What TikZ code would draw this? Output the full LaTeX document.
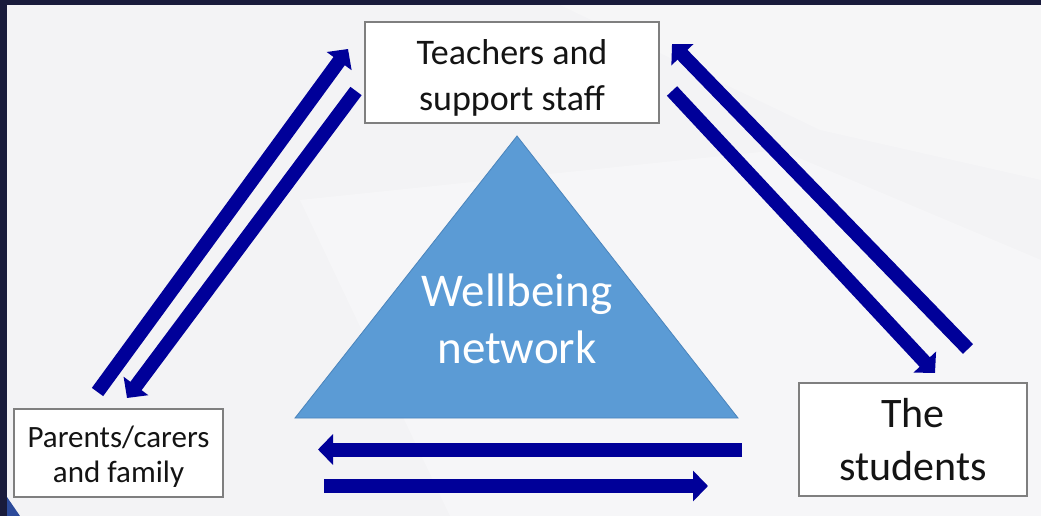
\documentclass[tikz,border=0pt]{standalone}
\usepackage{fontspec}
\setmainfont{Carlito}
\usetikzlibrary{arrows.meta}
\definecolor{frame}{HTML}{191B3B}
\definecolor{bgl}{HTML}{F3F3F5}
\definecolor{navy}{RGB}{0,0,153}
\definecolor{tri}{HTML}{5B9BD5}
\definecolor{triline}{HTML}{4A84BC}
\definecolor{boxline}{HTML}{7F7F7F}
\definecolor{corner}{HTML}{2C4A9A}
\definecolor{ink}{HTML}{141414}
\tikzset{
  labelbox/.style={draw=boxline, line width=1.3pt, fill=white, inner sep=0pt, align=center, text=ink},
  bigarrow/.style={draw=navy, line width=14pt, -{Triangle[length=15pt,width=30pt]}},
}
\begin{document}
\begin{tikzpicture}[x=1pt,y=-1pt]
\useasboundingbox (0,0) rectangle (1041,516);
% background
\fill[bgl] (0,0) rectangle (1041,516);
\fill[black!4, opacity=0.4] (7,300) -- (260,470) -- (420,516) -- (7,516) -- cycle;
\fill[white, opacity=0.25] (560,5) -- (1041,5) -- (1041,180) -- (820,130) -- cycle;
\fill[white, opacity=0.3] (300,200) -- (780,150) -- (1041,260) -- (1041,516) -- (450,516) -- cycle;
\fill[frame] (0,0) rectangle (1041,5);
\fill[frame] (0,0) rectangle (7,516);
\fill[corner] (7,497) -- (20,516) -- (7,516) -- cycle;
% boxes
\node[labelbox, minimum width=294pt, minimum height=101pt,
      font=\fontsize{36}{46}\selectfont] (teach) at (512,72.5) {\rule{0pt}{35pt}Teachers and\\support staff};
\node[labelbox, minimum width=209pt, minimum height=88pt,
      font=\fontsize{31}{35}\selectfont] (parents) at (118.5,453) {\rule{0pt}{28pt}Parents/carers\\and family};
\node[labelbox, minimum width=228pt, minimum height=113pt,
      font=\fontsize{42}{53}\selectfont] (students) at (913,439.5) {The\\students};
% triangle
\filldraw[fill=tri, draw=triline, line width=0.8pt] (517,136) -- (738,418) -- (295,418) -- cycle;
\node[text=white, align=center, font=\fontsize{47}{57}\selectfont] (well) at (517,319) {Wellbeing\\network};
% arrow end points
\coordinate (a1s) at (97.5,392);
\coordinate (a1e) at (348,49);
\coordinate (a2s) at (356,91);
\coordinate (a2e) at (127,398);
\coordinate (a3s) at (968,349);
\coordinate (a3e) at (672,44);
\coordinate (a4s) at (672,91);
\coordinate (a4e) at (935,373);
\coordinate (a5s) at (742,449.5);
\coordinate (a5e) at (318,449.5);
\coordinate (a6s) at (324,486);
\coordinate (a6e) at (708,486);
\draw[bigarrow] (a1s) -- (a1e);
\draw[bigarrow] (a2s) -- (a2e);
\draw[bigarrow] (a3s) -- (a3e);
\draw[bigarrow] (a4s) -- (a4e);
\draw[bigarrow] (a5s) -- (a5e);
\draw[bigarrow] (a6s) -- (a6e);
\end{tikzpicture}
\end{document}
